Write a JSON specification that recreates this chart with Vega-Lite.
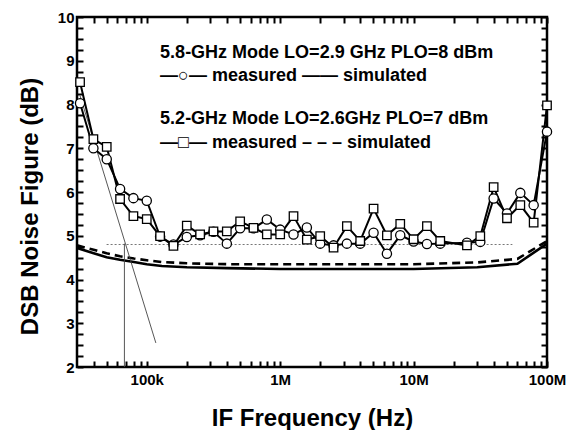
{
  "$schema": "https://vega.github.io/schema/vega-lite/v6.json",
  "width": 470,
  "height": 350,
  "autosize": {"type": "none"},
  "padding": {"left": 77, "top": 17, "right": 29, "bottom": 63},
  "background": "white",
  "config": {
    "view": {"stroke": "black", "strokeWidth": 2.5},
    "font": "Liberation Sans"
  },
  "datasets": {
    "measured": [
      {"f": 31623, "nf": 8.03, "mode": "5.8"}, {"f": 39811, "nf": 7.0, "mode": "5.8"}, {"f": 50119, "nf": 6.75, "mode": "5.8"},
      {"f": 63096, "nf": 6.07, "mode": "5.8"}, {"f": 79433, "nf": 5.86, "mode": "5.8"}, {"f": 100000, "nf": 5.8, "mode": "5.8"},
      {"f": 125893, "nf": 4.98, "mode": "5.8"}, {"f": 158489, "nf": 4.8, "mode": "5.8"}, {"f": 199526, "nf": 4.97, "mode": "5.8"},
      {"f": 251189, "nf": 5.01, "mode": "5.8"}, {"f": 316228, "nf": 5.09, "mode": "5.8"}, {"f": 398107, "nf": 4.82, "mode": "5.8"},
      {"f": 501187, "nf": 5.17, "mode": "5.8"}, {"f": 630957, "nf": 5.17, "mode": "5.8"}, {"f": 794328, "nf": 5.37, "mode": "5.8"},
      {"f": 1000000, "nf": 5.14, "mode": "5.8"}, {"f": 1258925, "nf": 5.03, "mode": "5.8"}, {"f": 1584893, "nf": 5.19, "mode": "5.8"},
      {"f": 1995262, "nf": 4.82, "mode": "5.8"}, {"f": 2511886, "nf": 4.78, "mode": "5.8"}, {"f": 3162278, "nf": 4.82, "mode": "5.8"},
      {"f": 3981072, "nf": 4.82, "mode": "5.8"}, {"f": 5011872, "nf": 5.07, "mode": "5.8"}, {"f": 6309573, "nf": 4.59, "mode": "5.8"},
      {"f": 7943282, "nf": 5.01, "mode": "5.8"}, {"f": 10000000, "nf": 4.87, "mode": "5.8"}, {"f": 12589254, "nf": 4.81, "mode": "5.8"},
      {"f": 15848932, "nf": 4.82, "mode": "5.8"}, {"f": 25118864, "nf": 4.84, "mode": "5.8"}, {"f": 31622777, "nf": 4.86, "mode": "5.8"},
      {"f": 39810717, "nf": 5.85, "mode": "5.8"}, {"f": 50118723, "nf": 5.51, "mode": "5.8"}, {"f": 63095734, "nf": 5.98, "mode": "5.8"},
      {"f": 79432823, "nf": 5.7, "mode": "5.8"}, {"f": 100000000, "nf": 7.38, "mode": "5.8"},
      {"f": 31623, "nf": 8.51, "mode": "5.2"}, {"f": 39811, "nf": 7.21, "mode": "5.2"}, {"f": 50119, "nf": 7.03, "mode": "5.2"},
      {"f": 63096, "nf": 5.84, "mode": "5.2"}, {"f": 79433, "nf": 5.45, "mode": "5.2"}, {"f": 100000, "nf": 5.38, "mode": "5.2"},
      {"f": 125893, "nf": 4.99, "mode": "5.2"}, {"f": 158489, "nf": 4.77, "mode": "5.2"}, {"f": 199526, "nf": 5.23, "mode": "5.2"},
      {"f": 251189, "nf": 5.03, "mode": "5.2"}, {"f": 316228, "nf": 5.1, "mode": "5.2"}, {"f": 398107, "nf": 5.1, "mode": "5.2"},
      {"f": 501187, "nf": 5.33, "mode": "5.2"}, {"f": 630957, "nf": 5.18, "mode": "5.2"}, {"f": 794328, "nf": 5.03, "mode": "5.2"},
      {"f": 1000000, "nf": 5.03, "mode": "5.2"}, {"f": 1258925, "nf": 5.45, "mode": "5.2"}, {"f": 1584893, "nf": 4.91, "mode": "5.2"},
      {"f": 1995262, "nf": 4.99, "mode": "5.2"}, {"f": 2511886, "nf": 4.73, "mode": "5.2"}, {"f": 3162278, "nf": 5.22, "mode": "5.2"},
      {"f": 3981072, "nf": 4.88, "mode": "5.2"}, {"f": 5011872, "nf": 5.62, "mode": "5.2"}, {"f": 6309573, "nf": 5.01, "mode": "5.2"},
      {"f": 7943282, "nf": 5.27, "mode": "5.2"}, {"f": 10000000, "nf": 4.92, "mode": "5.2"}, {"f": 12589254, "nf": 5.22, "mode": "5.2"},
      {"f": 15848932, "nf": 4.88, "mode": "5.2"}, {"f": 25118864, "nf": 4.78, "mode": "5.2"}, {"f": 31622777, "nf": 4.99, "mode": "5.2"},
      {"f": 39810717, "nf": 6.11, "mode": "5.2"}, {"f": 50118723, "nf": 5.4, "mode": "5.2"}, {"f": 63095734, "nf": 5.7, "mode": "5.2"},
      {"f": 79432823, "nf": 5.3, "mode": "5.2"}, {"f": 100000000, "nf": 7.98, "mode": "5.2"}
    ],
    "simulated": [
      {"f": 30000, "nf": 4.72, "mode": "5.8"}, {"f": 40000, "nf": 4.6, "mode": "5.8"}, {"f": 50000, "nf": 4.51, "mode": "5.8"},
      {"f": 63000, "nf": 4.45, "mode": "5.8"}, {"f": 80000, "nf": 4.4, "mode": "5.8"}, {"f": 100000, "nf": 4.35, "mode": "5.8"},
      {"f": 130000, "nf": 4.31, "mode": "5.8"}, {"f": 200000, "nf": 4.28, "mode": "5.8"}, {"f": 400000, "nf": 4.26, "mode": "5.8"},
      {"f": 1000000, "nf": 4.24, "mode": "5.8"}, {"f": 10000000, "nf": 4.24, "mode": "5.8"}, {"f": 30000000, "nf": 4.28, "mode": "5.8"},
      {"f": 60000000, "nf": 4.36, "mode": "5.8"}, {"f": 100000000, "nf": 4.82, "mode": "5.8"},
      {"f": 30000, "nf": 4.78, "mode": "5.2"}, {"f": 40000, "nf": 4.68, "mode": "5.2"}, {"f": 50000, "nf": 4.6, "mode": "5.2"},
      {"f": 63000, "nf": 4.53, "mode": "5.2"}, {"f": 80000, "nf": 4.48, "mode": "5.2"}, {"f": 100000, "nf": 4.44, "mode": "5.2"},
      {"f": 130000, "nf": 4.4, "mode": "5.2"}, {"f": 200000, "nf": 4.37, "mode": "5.2"}, {"f": 400000, "nf": 4.35, "mode": "5.2"},
      {"f": 1000000, "nf": 4.35, "mode": "5.2"}, {"f": 10000000, "nf": 4.35, "mode": "5.2"}, {"f": 30000000, "nf": 4.39, "mode": "5.2"},
      {"f": 60000000, "nf": 4.47, "mode": "5.2"}, {"f": 100000000, "nf": 4.88, "mode": "5.2"}
    ],
    "guides": [
      {"f": 50000, "nf": 4.8, "g": "level"}, {"f": 55000000, "nf": 4.8, "g": "level"},
      {"f": 31623, "nf": 8.2, "g": "slope"}, {"f": 117000, "nf": 2.55, "g": "slope"},
      {"f": 68000, "nf": 2, "g": "vert"}, {"f": 68000, "nf": 4.82, "g": "vert"}
    ],
    "notes": [
      {"f": 125900, "nf": 9.18, "t": "5.8-GHz Mode LO=2.9 GHz PLO=8 dBm"},
      {"f": 125900, "nf": 8.66, "t": "—○— measured —— simulated"},
      {"f": 125900, "nf": 7.66, "t": "5.2-GHz Mode LO=2.6GHz PLO=7 dBm"},
      {"f": 125900, "nf": 7.11, "t": "—□— measured – – – simulated"}
    ]
  },
  "resolve": {"axis": {"x": "independent", "y": "independent"}},
  "layer": [
    {
      "data": {"name": "simulated"},
      "transform": [{"filter": "datum.mode == '5.8'"}],
      "mark": {"type": "line", "color": "black", "strokeWidth": 2.6},
      "encoding": {
        "x": {
          "field": "f", "type": "quantitative",
          "scale": {"type": "log", "domain": [30000, 100000000], "nice": false},
          "axis": {
            "orient": "bottom",
            "values": [40000, 50000, 60000, 70000, 80000, 90000, 100000, 200000, 300000, 400000, 500000, 600000, 700000, 800000, 900000, 1000000, 2000000, 3000000, 4000000, 5000000, 6000000, 7000000, 8000000, 9000000, 10000000, 20000000, 30000000, 40000000, 50000000, 60000000, 70000000, 80000000, 90000000, 100000000],
            "labelExpr": "datum.value == 100000 ? '100k' : datum.value == 1000000 ? '1M' : datum.value == 10000000 ? '10M' : datum.value == 100000000 ? '100M' : ''",
            "ticks": true,
            "tickSize": -6,
            "encoding": {"ticks": {"update": {"y2": {"signal": "indexof([100000, 1000000, 10000000, 100000000], datum.value) >= 0 ? -8 : -4"}}}},
            "tickWidth": 2, "tickColor": "black", "domain": false, "grid": false,
            "labelFont": "Liberation Sans", "labelFontWeight": "bold", "labelFontSize": 15, "labelColor": "black",
            "labelPadding": 11, "labelFlush": false, "labelOverlap": false, "labelBound": false,
            "title": "IF Frequency (Hz)", "titleFont": "Liberation Sans", "titleFontSize": 24, "titleFontWeight": "bold",
            "titleColor": "black", "titleBaseline": "alphabetic", "titleY": 58
          }
        },
        "y": {
          "field": "nf", "type": "quantitative",
          "scale": {"domain": [2, 10], "nice": false, "zero": false},
          "axis": {
            "orient": "left",
            "values": [2, 2.25, 2.5, 2.75, 3, 3.25, 3.5, 3.75, 4, 4.25, 4.5, 4.75, 5, 5.25, 5.5, 5.75, 6, 6.25, 6.5, 6.75, 7, 7.25, 7.5, 7.75, 8, 8.25, 8.5, 8.75, 9, 9.25, 9.5, 9.75, 10],
            "labelExpr": "datum.value % 1 == 0 ? format(datum.value, 'd') : ''",
            "ticks": true,
            "tickSize": -6,
            "encoding": {"ticks": {"update": {"x2": {"signal": "datum.value % 1 == 0 ? 8 : 4"}}}},
            "tickWidth": 2, "tickColor": "black", "domain": false, "grid": false,
            "labelFont": "Liberation Sans", "labelFontWeight": "bold", "labelFontSize": 15, "labelColor": "black",
            "labelPadding": 9, "labelFlush": false, "labelOverlap": false, "labelBound": false,
            "title": "DSB Noise Figure (dB)", "titleFont": "Liberation Sans", "titleFontSize": 24, "titleFontWeight": "bold",
            "titleColor": "black", "titleBaseline": "alphabetic", "titleX": -40, "titleY": 189
          }
        }
      }
    },
    {
      "data": {"name": "simulated"},
      "transform": [{"filter": "datum.mode == '5.2'"}],
      "mark": {"type": "line", "color": "black", "strokeWidth": 2.6, "strokeDash": [8, 5]},
      "encoding": {
        "x": {
          "field": "f", "type": "quantitative",
          "scale": {"type": "log", "domain": [30000, 100000000], "nice": false},
          "axis": {
            "orient": "top",
            "values": [40000, 50000, 60000, 70000, 80000, 90000, 100000, 200000, 300000, 400000, 500000, 600000, 700000, 800000, 900000, 1000000, 2000000, 3000000, 4000000, 5000000, 6000000, 7000000, 8000000, 9000000, 10000000, 20000000, 30000000, 40000000, 50000000, 60000000, 70000000, 80000000, 90000000, 100000000],
            "labels": false,
            "ticks": true,
            "tickSize": -6,
            "encoding": {"ticks": {"update": {"y2": {"signal": "indexof([100000, 1000000, 10000000, 100000000], datum.value) >= 0 ? 8 : 4"}}}},
            "tickWidth": 2, "tickColor": "black", "domain": false, "grid": false, "title": null
          }
        },
        "y": {
          "field": "nf", "type": "quantitative",
          "scale": {"domain": [2, 10], "nice": false, "zero": false},
          "axis": {
            "orient": "right",
            "values": [2, 2.25, 2.5, 2.75, 3, 3.25, 3.5, 3.75, 4, 4.25, 4.5, 4.75, 5, 5.25, 5.5, 5.75, 6, 6.25, 6.5, 6.75, 7, 7.25, 7.5, 7.75, 8, 8.25, 8.5, 8.75, 9, 9.25, 9.5, 9.75, 10],
            "labels": false,
            "ticks": true,
            "tickSize": -6,
            "encoding": {"ticks": {"update": {"x2": {"signal": "datum.value % 1 == 0 ? -8 : -4"}}}},
            "tickWidth": 2, "tickColor": "black", "domain": false, "grid": false, "title": null
          }
        }
      }
    },
    {
      "data": {"name": "guides"},
      "transform": [{"filter": "datum.g == 'level'"}],
      "mark": {"type": "line", "color": "#777777", "strokeWidth": 1, "strokeDash": [2, 2]},
      "encoding": {
        "x": {"field": "f", "type": "quantitative", "axis": null},
        "y": {"field": "nf", "type": "quantitative", "axis": null}
      }
    },
    {
      "data": {"name": "guides"},
      "transform": [{"filter": "datum.g != 'level'"}],
      "mark": {"type": "line", "color": "#444444", "strokeWidth": 0.9},
      "encoding": {
        "x": {"field": "f", "type": "quantitative", "axis": null},
        "y": {"field": "nf", "type": "quantitative", "axis": null},
        "detail": {"field": "g"}
      }
    },
    {
      "data": {"name": "measured"},
      "mark": {"type": "line", "color": "black", "strokeWidth": 2},
      "encoding": {
        "x": {"field": "f", "type": "quantitative", "axis": null},
        "y": {"field": "nf", "type": "quantitative", "axis": null},
        "detail": {"field": "mode"}
      }
    },
    {
      "data": {"name": "measured"},
      "mark": {"type": "point", "filled": false, "fill": "white", "fillOpacity": 1, "stroke": "black", "strokeWidth": 1.3, "opacity": 1},
      "encoding": {
        "x": {"field": "f", "type": "quantitative", "axis": null},
        "y": {"field": "nf", "type": "quantitative", "axis": null},
        "shape": {"field": "mode", "type": "nominal", "scale": {"domain": ["5.8", "5.2"], "range": ["circle", "square"]}, "legend": null},
        "size": {"field": "mode", "type": "nominal", "scale": {"domain": ["5.8", "5.2"], "range": [85, 72]}, "legend": null}
      }
    },
    {
      "data": {"name": "notes"},
      "mark": {"type": "text", "align": "left", "baseline": "middle", "font": "Liberation Sans", "fontWeight": "bold", "fontSize": 18, "color": "black"},
      "encoding": {
        "x": {"field": "f", "type": "quantitative", "axis": null},
        "y": {"field": "nf", "type": "quantitative", "axis": null},
        "text": {"field": "t"}
      }
    }
  ]
}
